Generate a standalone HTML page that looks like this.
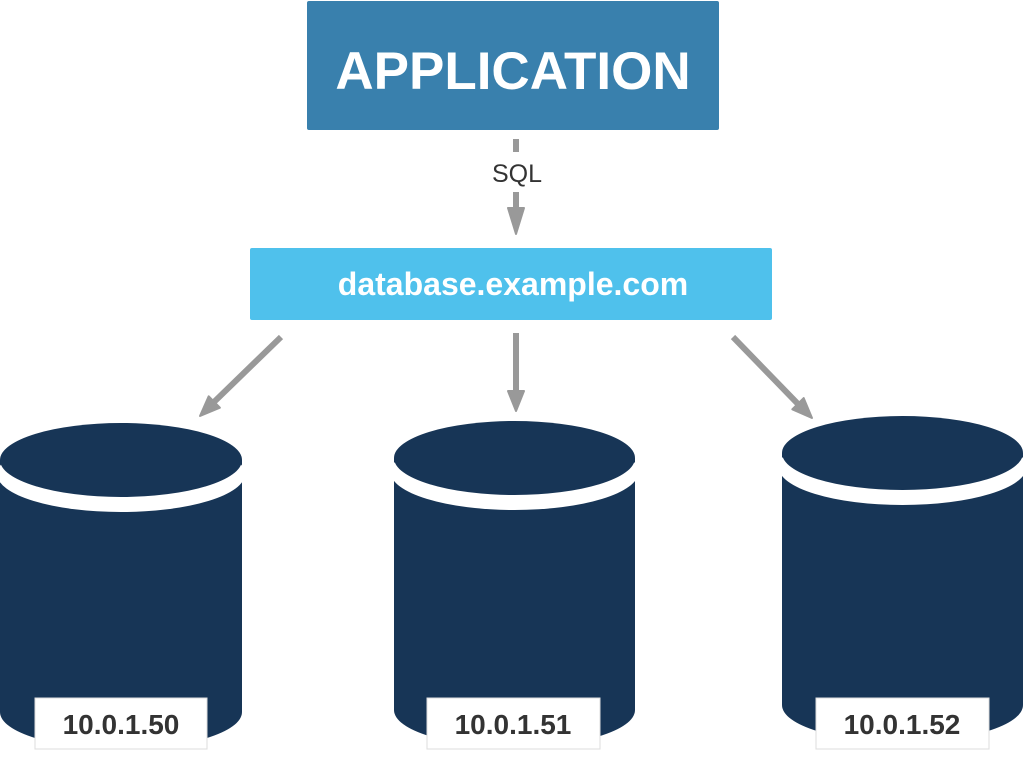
<!DOCTYPE html>
<html><head><meta charset="utf-8"><style>
body{margin:0;background:#fff;width:1024px;height:754px;overflow:hidden;font-family:"Liberation Sans",sans-serif}
</style></head><body>
<svg width="1024" height="754" xmlns="http://www.w3.org/2000/svg" font-family="Liberation Sans, sans-serif">
<rect x="307" y="1" width="412" height="129" rx="2" fill="#3980ad"/>
<text x="513" y="89" font-size="53" font-weight="bold" fill="#fff" text-anchor="middle">APPLICATION</text>
<line x1="516" y1="139" x2="516" y2="152" stroke="#999" stroke-width="6"/>
<text x="517" y="182" font-size="25" fill="#333" text-anchor="middle">SQL</text>
<g fill="#999" stroke="#999" stroke-width="2" stroke-linejoin="round">
<line x1="516" y1="192" x2="516" y2="212" stroke-width="6"/>
<polygon points="508,208 524,208 516,234"/>
<line x1="516" y1="333" x2="516" y2="395" stroke-width="6"/>
<polygon points="508,391 524,391 516,411"/>
<line x1="281" y1="337" x2="214" y2="402" stroke-width="6"/>
<polygon points="219.9,407.7 208.7,396.3 200,416"/>
<line x1="733" y1="337" x2="798" y2="404" stroke-width="6"/>
<polygon points="792.3,409.3 803.7,398.1 812,418"/>
</g>
<rect x="250" y="248" width="522" height="72" rx="2" fill="#4fc1ec"/>
<text x="513" y="295" font-size="32" font-weight="bold" fill="#fff" text-anchor="middle">database.example.com</text>
<g fill="#173556">
<path d="M0,460 L242,460 L242,712 A121,37 0 0 1 0,712Z"/>
<ellipse cx="121" cy="474" rx="124" ry="38" fill="#fff"/>
<ellipse cx="121" cy="460" rx="121" ry="37"/>
<path d="M394,458 L635,458 L635,710 A120.5,37 0 0 1 394,710Z"/>
<ellipse cx="514.5" cy="472" rx="124" ry="38" fill="#fff"/>
<ellipse cx="514.5" cy="458" rx="120.5" ry="37"/>
<path d="M782,453 L1023,453 L1023,705 A120.5,37 0 0 1 782,705Z"/>
<ellipse cx="902.5" cy="467" rx="124" ry="38" fill="#fff"/>
<ellipse cx="902.5" cy="453" rx="120.5" ry="37"/>
</g>
<g font-size="28" font-weight="bold" fill="#333" text-anchor="middle">
<rect x="35" y="698" width="172" height="51" fill="#fff" stroke="#ddd"/>
<text x="121" y="734">10.0.1.50</text>
<rect x="427" y="698" width="173" height="51" fill="#fff" stroke="#ddd"/>
<text x="513" y="734">10.0.1.51</text>
<rect x="816" y="698" width="173" height="51" fill="#fff" stroke="#ddd"/>
<text x="902" y="734">10.0.1.52</text>
</g>
</svg>
</body></html>
